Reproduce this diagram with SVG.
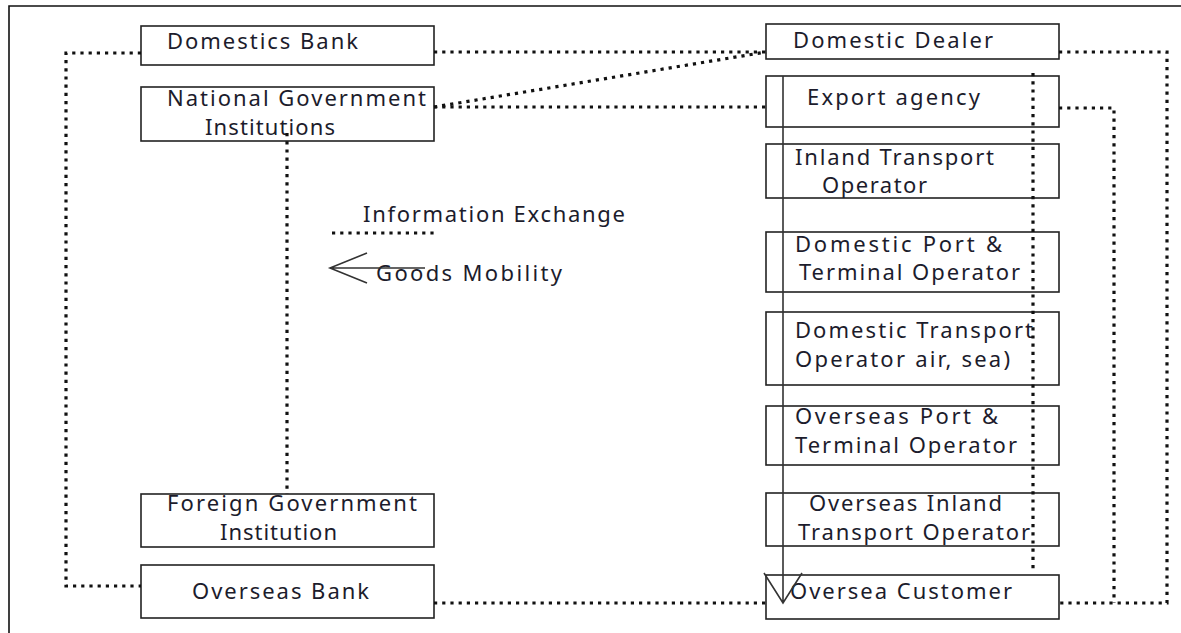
<svg xmlns="http://www.w3.org/2000/svg" width="1181" height="633" viewBox="0 0 1181 633">
<style>
.box{fill:#fff;stroke:#222;stroke-width:1.6}
.t{font-family:"Noto Sans","Liberation Sans",sans-serif;font-size:22px;fill:#1c1c2c}
.dot{fill:none;stroke:#111;stroke-width:3.2;stroke-dasharray:3.2 5}
.solid{fill:none;stroke:#333;stroke-width:1.6}
</style>
<rect width="1181" height="633" fill="#fff"/>
<path d="M9,633 V6 H1181" fill="none" stroke="#111" stroke-width="1.6"/>
<g id="domestics-bank"><rect class="box" x="141" y="26" width="293" height="39"/><text class="t" x="167" y="49" textLength="191" lengthAdjust="spacing">Domestics Bank</text></g>
<g id="national-gov"><rect class="box" x="141" y="87" width="293" height="54"/><text class="t" x="167" y="106" textLength="259" lengthAdjust="spacing">National Government</text><text class="t" x="205" y="135" textLength="130" lengthAdjust="spacing">Institutions</text></g>
<g id="foreign-gov"><rect class="box" x="141" y="494" width="293" height="53"/><text class="t" x="167" y="511" textLength="250" lengthAdjust="spacing">Foreign Government</text><text class="t" x="220" y="540" textLength="117" lengthAdjust="spacing">Institution</text></g>
<g id="overseas-bank"><rect class="box" x="141" y="565" width="293" height="53"/><text class="t" x="192" y="599" textLength="177" lengthAdjust="spacing">Overseas Bank</text></g>
<g id="legend">
<text class="t" x="363" y="222" textLength="262" lengthAdjust="spacing">Information Exchange</text>
<text class="t" x="376" y="281" textLength="186" lengthAdjust="spacing">Goods Mobility</text>
</g>
<g id="domestic-dealer"><rect class="box" x="766" y="24" width="293" height="35"/><text class="t" x="793" y="48" textLength="200" lengthAdjust="spacing">Domestic Dealer</text></g>
<g id="export-agency"><rect class="box" x="766" y="76" width="293" height="51"/><text class="t" x="807" y="105" textLength="173" lengthAdjust="spacing">Export agency</text></g>
<g id="inland-transport"><rect class="box" x="766" y="144" width="293" height="54"/><text class="t" x="795" y="165" textLength="199" lengthAdjust="spacing">Inland Transport</text><text class="t" x="822" y="193" textLength="105" lengthAdjust="spacing">Operator</text></g>
<g id="domestic-port"><rect class="box" x="766" y="232" width="293" height="60"/><text class="t" x="795" y="252" textLength="207" lengthAdjust="spacing">Domestic Port &amp;</text><text class="t" x="799" y="280" textLength="221" lengthAdjust="spacing">Terminal Operator</text></g>
<g id="domestic-transport"><rect class="box" x="766" y="312" width="293" height="73"/><text class="t" x="795" y="338" textLength="238" lengthAdjust="spacing">Domestic Transport</text><text class="t" x="795" y="367" textLength="215" lengthAdjust="spacing">Operator air, sea)</text></g>
<g id="overseas-port"><rect class="box" x="766" y="406" width="293" height="59"/><text class="t" x="795" y="424" textLength="203" lengthAdjust="spacing">Overseas Port &amp;</text><text class="t" x="795" y="453" textLength="222" lengthAdjust="spacing">Terminal Operator</text></g>
<g id="overseas-inland"><rect class="box" x="766" y="493" width="293" height="53"/><text class="t" x="809" y="511" textLength="193" lengthAdjust="spacing">Overseas Inland</text><text class="t" x="798" y="540" textLength="232" lengthAdjust="spacing">Transport Operator</text></g>
<g id="oversea-customer"><rect class="box" x="766" y="575" width="293" height="44"/><text class="t" x="790" y="599" textLength="222" lengthAdjust="spacing">Oversea Customer</text></g>
<g id="connectors">
<path class="dot" d="M141,53 H66 V586 H141"/>
<path class="dot" d="M434,52 H766"/>
<path class="dot" d="M434,107 L766,52"/>
<path class="dot" d="M434,107 H766"/>
<path class="dot" d="M287,133 V494"/>
<path class="dot" d="M1059,52 H1167 V603 H1059"/>
<path class="dot" d="M1059,108 H1114 V603"/>
<path class="dot" d="M1033,73 V573"/>
<path class="dot" d="M434,603 H766"/>
<path class="dot" d="M332,233 H435"/>
<path class="solid" d="M425,268 H330 M367,253 L330,268 L367,283"/>
<path class="solid" d="M783,76 V603 M764,573 L783,603 L802,573"/>
</g>
</svg>
